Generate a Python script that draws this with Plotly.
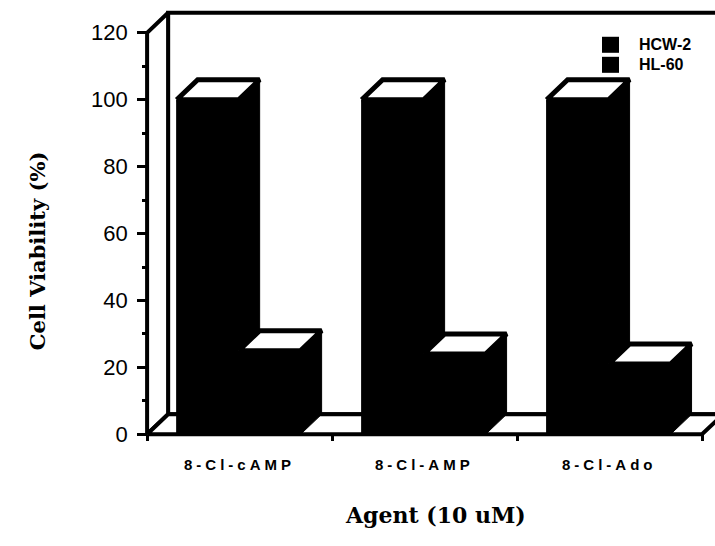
import plotly.graph_objects as go

# ---- data -------------------------------------------------------------
agents = ["8-Cl-cAMP", "8-Cl-AMP", "8-Cl-Ado"]
series_names = ["HCW-2", "HL-60"]
hcw2_viability = [100, 100, 100]
hl60_viability = [25, 24, 21]
y_tick_values = [0, 20, 40, 60, 80, 100, 120]

# ---- geometry of the pseudo-3D box ------------------------------------
W, H = 715, 546
X0_PX, Y0_PX = 147, 434          # front-left-bottom corner of the box (px)
PX_PER_X = 185.0                 # px per category slot
PX_PER_Y = 401.0 / 120.0         # px per percent
DX = 21.0 / PX_PER_X             # depth offset, x units
DY = 20.0 / PX_PER_Y             # depth offset, y units
BAR_W = 0.335
BAR_OFF = -0.34
LINE_W = 4

x_lo, x_hi = -0.56, -0.5 + (W - X0_PX) / PX_PER_X
y_lo, y_hi = -2.0, 128.0
ml = X0_PX - (-0.5 - x_lo) * PX_PER_X
mb = H - (Y0_PX + (0 - y_lo) * PX_PER_Y)
mt = Y0_PX - y_hi * PX_PER_Y
plot_w = W - ml
plot_h = H - mt - mb


def px_to_paper(px, py):
    return (px - ml) / plot_w, (H - mb - py) / plot_h


fig = go.Figure()


def poly(xs, ys, fill, lw=LINE_W):
    fig.add_trace(go.Scatter(
        x=xs, y=ys, mode="lines", fill="toself", fillcolor=fill,
        line=dict(color="black", width=lw), hoverinfo="skip",
        showlegend=False))


x_left, x_right = -0.5, len(agents) - 0.5
y_top = y_tick_values[-1]

# back wall, left wall and floor
poly([x_left + DX, x_right + DX, x_right + DX, x_left + DX, x_left + DX],
     [DY, DY, y_top + DY, y_top + DY, DY], "white")
poly([x_left, x_left, x_left + DX, x_left + DX, x_left],
     [0, y_top, y_top + DY, DY, 0], "white")
poly([x_left, x_right, x_right + DX, x_left + DX, x_left],
     [0, 0, DY, DY, 0], "white")

# bars: black body with a white top face
for i in range(len(agents)):
    for vals, off in ((hcw2_viability, BAR_OFF), (hl60_viability, BAR_OFF + BAR_W)):
        v = vals[i]
        x0 = i + off
        x1 = x0 + BAR_W
        poly([x0, x1, x1 + DX, x1 + DX, x0 + DX, x0, x0],
             [0, 0, DY, v + DY, v + DY, v, 0], "black", lw=1)
        poly([x0, x1, x1 + DX, x0 + DX, x0],
             [v, v, v + DY, v + DY, v], "white", lw=5)

y_pos = (X0_PX - ml) / plot_w
x_pos = (0 - y_lo) * PX_PER_Y / plot_h

fig.update_layout(
    width=W, height=H,
    margin=dict(l=ml, r=0, t=mt, b=mb, autoexpand=False),
    plot_bgcolor="white", paper_bgcolor="white",
    showlegend=False,
    xaxis=dict(range=[x_lo, x_hi], anchor="free", position=x_pos,
               showgrid=False, zeroline=False, showline=False,
               tickvals=[k - 0.5 for k in range(len(agents) + 1)],
               ticktext=[""] * (len(agents) + 1),
               ticks="outside", ticklen=6, tickwidth=3, tickcolor="black"),
    yaxis=dict(range=[y_lo, y_hi], anchor="free", position=y_pos,
               showgrid=False, zeroline=False, showline=False,
               tickvals=y_tick_values,
               ticks="outside", ticklen=10, tickwidth=3, tickcolor="black",
               ticklabelstandoff=5,
               tickfont=dict(family="Liberation Sans", size=22, color="black"),
               minor=dict(tick0=0, dtick=10, ticks="outside", ticklen=5,
                          tickwidth=3, tickcolor="black")),
)

# category labels
for i, name in enumerate(agents):
    fig.add_annotation(
        x=i, y=0, xref="x", yref="y", yanchor="top", xanchor="center",
        yshift=-20, showarrow=False,
        text=f'<span style="letter-spacing:4px">{name}</span>',
        font=dict(family="Liberation Sans", size=15, color="black", weight="bold"))

# axis titles
tx, ty = px_to_paper(435, 515)
fig.add_annotation(x=tx, y=ty, xref="paper", yref="paper", showarrow=False,
                   xanchor="center", yanchor="middle",
                   text="Agent (10 uM)",
                   font=dict(family="DejaVu Serif", size=22, color="black",
                             weight="bold"))
tx, ty = px_to_paper(37, 251)
fig.add_annotation(x=tx, y=ty, xref="paper", yref="paper", showarrow=False,
                   xanchor="center", yanchor="middle",
                   text="Cell Viability (%)", textangle=-90,
                   font=dict(family="DejaVu Serif", size=21, color="black",
                             weight="bold"))

# legend keys
for k, name in enumerate(series_names):
    top = 37 + k * 20
    ax0, ay0 = px_to_paper(602, top + 16)
    ax1, ay1 = px_to_paper(619, top)
    fig.add_shape(type="rect", xref="paper", yref="paper",
                  x0=ax0, y0=ay0, x1=ax1, y1=ay1,
                  fillcolor="black", line=dict(color="black", width=0))
    lx, ly = px_to_paper(637, top + 8)
    fig.add_annotation(x=lx, y=ly, xref="paper", yref="paper", showarrow=False,
                       xanchor="left", yanchor="middle", text=name,
                       font=dict(family="Liberation Sans", size=16, color="black",
                                 weight="bold"))

fig.write_html("out.html")
